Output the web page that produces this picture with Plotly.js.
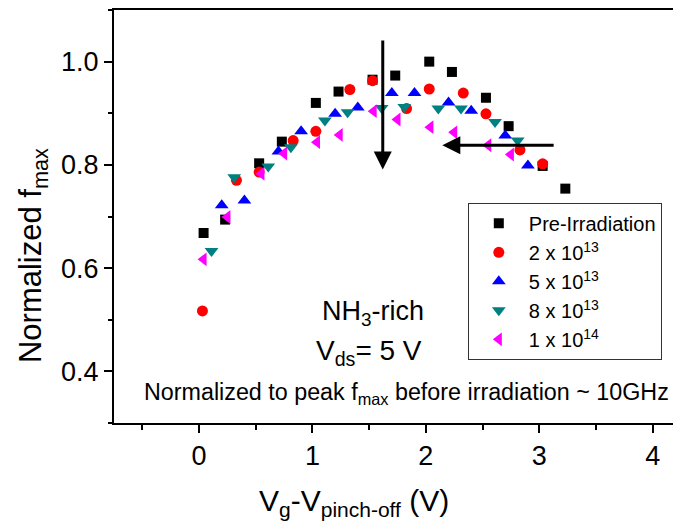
<!DOCTYPE html>
<html>
<head>
<meta charset="utf-8">
<script src="https://cdn.plot.ly/plotly-3.0.1.min.js"></script>
<style>
html, body { margin:0; padding:0; overflow:hidden; background:#fff; width:673px; height:524px; }
#chart { width:700px; height:524px; }
</style>
</head>
<body>
<div id="chart"></div>
<script>
// Data
const seriesNames = ["Pre-Irradiation", "2 x 10<sup>13</sup>", "5 x 10<sup>13</sup>", "8 x 10<sup>13</sup>", "1 x 10<sup>14</sup>"];

const preX = [0.04, 0.23, 0.53, 0.73, 1.03, 1.23, 1.53, 1.73, 2.03, 2.23, 2.53, 2.73, 3.03, 3.23];
const preY = [0.668, 0.694, 0.803, 0.845, 0.920, 0.942, 0.965, 0.973, 1.000, 0.980, 0.930, 0.875, 0.798, 0.754];

const d2X = [0.03, 0.33, 0.53, 0.83, 1.03, 1.33, 1.53, 1.83, 2.03, 2.33, 2.53, 2.83, 3.03];
const d2Y = [0.517, 0.770, 0.786, 0.847, 0.865, 0.946, 0.963, 0.909, 0.947, 0.939, 0.899, 0.829, 0.802];

const d5X = [0.20, 0.40, 0.70, 0.90, 1.20, 1.40, 1.70, 1.90, 2.20, 2.40, 2.70, 2.90];
const d5Y = [0.722, 0.731, 0.826, 0.865, 0.899, 0.911, 0.939, 0.939, 0.921, 0.905, 0.857, 0.799];

const d8X = [0.11, 0.31, 0.61, 0.81, 1.11, 1.31, 1.61, 1.81, 2.11, 2.31, 2.61, 2.81];
const d8Y = [0.633, 0.776, 0.797, 0.834, 0.886, 0.902, 0.910, 0.912, 0.909, 0.909, 0.883, 0.847];

const d14X = [0.04, 0.25, 0.55, 0.75, 1.04, 1.24, 1.54, 1.75, 2.04, 2.25, 2.55, 2.75];
const d14Y = [0.617, 0.699, 0.783, 0.822, 0.844, 0.858, 0.904, 0.888, 0.873, 0.863, 0.838, 0.820];

const xTickVals = [0, 1, 2, 3, 4];
const yTickVals = [0.4, 0.6, 0.8, 1.0];

const FONT = "Liberation Sans, Arial, sans-serif";

const xs = [preX, d2X, d5X, d8X, d14X];
const ys = [preY, d2Y, d5Y, d8Y, d14Y];
const symbols = ["square", "circle", "triangle-up", "triangle-down", "triangle-left"];
const colors = ["#000000", "#ff0000", "#0000ff", "#008080", "#ff00ff"];
const sizes = [10, 11, 12, 12, 12];

const traces = xs.map((x, i) => ({
  type: "scatter",
  mode: "markers",
  x: x,
  y: ys[i],
  name: seriesNames[i],
  marker: { symbol: symbols[i], color: colors[i], size: sizes[i], line: { width: 0 } }
}));

const layout = {
  width: 700,
  height: 524,
  margin: { l: 114, r: 18.5, t: 10, b: 101 },
  paper_bgcolor: "#fff",
  plot_bgcolor: "#fff",
  font: { family: FONT, color: "#000" },
  showlegend: true,
  legend: {
    x: 0.624, y: 0.533, xanchor: "left", yanchor: "top",
    bordercolor: "#333", borderwidth: 1, bgcolor: "#fff",
    font: { family: FONT, size: 20, color: "#000" },
    itemsizing: "trace", itemwidth: 50
  },
  xaxis: {
    range: [-0.75, 4.25],
    tickvals: xTickVals,
    ticktext: xTickVals.map(String),
    ticks: "outside", ticklen: 8, tickwidth: 2, tickcolor: "#000",
    minor: { dtick: 0.5, tick0: 0.5, ticks: "outside", ticklen: 5, tickwidth: 2, tickcolor: "#000" },
    showline: true, linewidth: 2, linecolor: "#000", mirror: true,
    showgrid: false, zeroline: false,
    tickfont: { family: FONT, size: 27, color: "#000" }
  },
  yaxis: {
    range: [0.3, 1.1],
    tickvals: yTickVals,
    ticktext: yTickVals.map(v => v.toFixed(1)),
    ticks: "outside", ticklen: 8, tickwidth: 2, tickcolor: "#000",
    minor: { dtick: 0.2, tick0: 0.3, ticks: "outside", ticklen: 4, tickwidth: 2, tickcolor: "#000" },
    showline: true, linewidth: 2, linecolor: "#000", mirror: true,
    showgrid: false, zeroline: false,
    tickfont: { family: FONT, size: 27, color: "#000" }
  },
  annotations: [
    { xref: "paper", yref: "paper", x: -0.1427, y: 0.4044, textangle: -90, showarrow: false,
      text: "Normalized f<sub>max</sub>", font: { family: FONT, size: 31, color: "#000" }, xanchor: "center", yanchor: "middle" },
    { xref: "paper", yref: "paper", x: 0.4229, y: -0.1913, showarrow: false,
      text: "V<sub>g</sub>-V<sub>pinch-off</sub> (V)", font: { family: FONT, size: 30, color: "#000" }, xanchor: "center", yanchor: "middle" },
    { xref: "x", yref: "y", x: 1.535, y: 0.513, showarrow: false,
      text: "NH<sub>3</sub>-rich", font: { family: FONT, size: 27, color: "#000" }, xanchor: "center", yanchor: "middle" },
    { xref: "x", yref: "y", x: 1.50, y: 0.437, showarrow: false,
      text: "V<sub>ds</sub>= 5 V", font: { family: FONT, size: 28, color: "#000" }, xanchor: "center", yanchor: "middle" },
    { xref: "paper", yref: "y", x: 0.050, y: 0.358, showarrow: false,
      text: "Normalized to peak f<sub>max</sub> before irradiation ~ 10GHz", font: { family: FONT, size: 23.3, color: "#000" }, xanchor: "left", yanchor: "middle" },
    { xref: "x", yref: "y", axref: "x", ayref: "y", x: 1.62, y: 0.791, ax: 1.62, ay: 1.044,
      showarrow: true, arrowhead: 2, arrowsize: 1.2, arrowwidth: 3, arrowcolor: "#000", text: "" },
    { xref: "x", yref: "y", axref: "x", ayref: "y", x: 2.145, y: 0.838, ax: 3.14, ay: 0.838,
      showarrow: true, arrowhead: 2, arrowsize: 1.2, arrowwidth: 3, arrowcolor: "#000", text: "" }
  ]
};

Plotly.newPlot("chart", traces, layout, { displayModeBar: false, staticPlot: true });
</script>
</body>
</html>
